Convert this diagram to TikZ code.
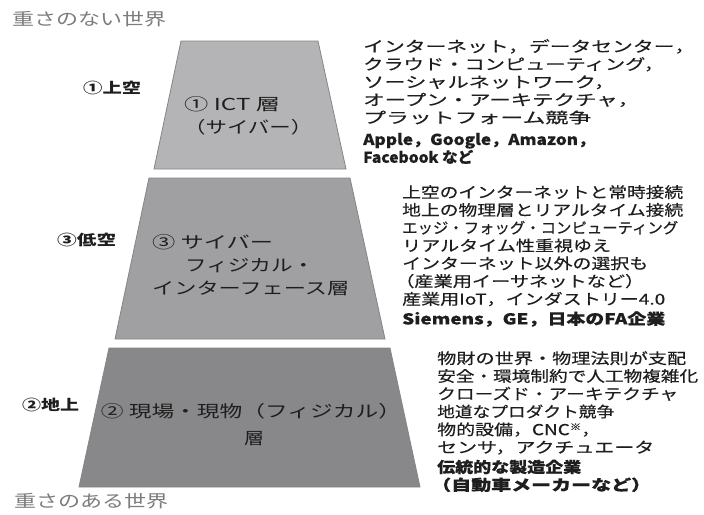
\documentclass[tikz,border=0pt]{standalone}
\usepackage{graphicx}
\usepackage{fontspec}
\setmainfont{Noto Sans CJK JP}
\newfontfamily\jpmed{Noto Sans CJK JP}[FakeBold=0.35]
\newcommand{\fsz}[2]{\fontsize{#1}{#2}\selectfont}
\newcommand{\fitw}[2]{\resizebox{#1pt}{\height}{#2}}
\definecolor{topfill}{HTML}{B4B4B6}
\definecolor{midfill}{HTML}{A0A0A2}
\definecolor{botfill}{HTML}{88888A}
\definecolor{edge}{HTML}{858587}
\definecolor{ink}{HTML}{1E1E1E}
\definecolor{titlegray}{HTML}{7C7C7C}
\begin{document}
\begin{tikzpicture}[x=1pt,y=-1pt,
  layerbox/.style={fill=#1, draw=edge, line width=0.8pt, line join=miter},
  titletext/.style={text=titlegray, font=\fsz{17}{20}, inner sep=0pt, anchor=west},
  sidetext/.style={text=ink, font=\bfseries\fsz{14.5}{17}, inner sep=0pt, anchor=west},
  labtext/.style={text=ink, font=\fsz{16.5}{23}, inner sep=0pt, align=left, anchor=west},
  desctext/.style={text=ink, font=\jpmed\fsz{15}{17.8}, inner sep=0pt, align=left, anchor=north west}]
\useasboundingbox (0,0) rectangle (704,514);
\fill[white] (0,0) rectangle (704,514);

% layers
\draw[layerbox=topfill] (181,41) -- (318,41) -- (346,169) -- (154,169) -- cycle;
\draw[layerbox=midfill] (149,178) -- (350,178) -- (385,339) -- (115,339) -- cycle;
\draw[layerbox=botfill] (109,348) -- (390,348) -- (420,487) -- (79,487) -- cycle;

% titles
\node[titletext] (ttop) at (12,19) {\fitw{154}{重さのない世界}};
\node[titletext] (tbot) at (14,501) {\fitw{154}{重さのある世界}};

% side labels
\node[sidetext] (s1) at (83,88) {\fitw{58}{①上空}};
\node[sidetext] (s3) at (57,240) {\fitw{59}{③低空}};
\node[sidetext] (s2) at (22,405) {\fitw{57}{②地上}};

% layer labels
\node[labtext] (l1) at (184,115.5) {\fitw{96}{① ICT 層}\\\fitw{128}{（サイバー）}};
\node[labtext] (l3) at (152,265) {\fitw{121}{③ サイバー}\\\hspace*{33pt}\fitw{129}{フィジカル・}\\\fitw{197}{インターフェース層}};
\node[labtext, align=center, anchor=center, font=\fsz{16.5}{27}] (l2) at (251,424.5) {\fitw{300}{② 現場・現物（フィジカル）}\\\hspace*{6pt}\fitw{20}{層}};

% descriptions
\node[desctext] (d1) at (363,39) {\fitw{332}{インターネット，データセンター，}\\
\fitw{301}{クラウド・コンピューティング，}\\
\fitw{252}{ソーシャルネットワーク，}\\
\fitw{276}{オープン・アーキテクチャ，}\\
\fitw{228}{プラットフォーム競争}\\[4pt]
{\bfseries\fitw{232}{Apple，Google，Amazon，}}\\
{\bfseries\fitw{110}{Facebook など}}};

\node[desctext] (d3) at (402,185) {\fitw{281}{上空のインターネットと常時接続}\\
\fitw{281}{地上の物理層とリアルタイム接続}\\
\fitw{276}{エッジ・フォッグ・コンピューティング}\\
\fitw{209}{リアルタイム性重視ゆえ}\\
\fitw{246}{インターネット以外の選択も}\\
\hspace*{-7pt}\fitw{249}{（産業用イーサネットなど）}\\
\fitw{263}{産業用IoT，インダストリー4.0}\\[2pt]
{\bfseries\fitw{263}{Siemens，GE，日本のFA企業}}};

\node[desctext] (d2) at (437,351) {\fitw{249}{物財の世界・物理法則が支配}\\
\fitw{261}{安全・環境制約で人工物複雑化}\\
\fitw{241}{クローズド・アーキテクチャ}\\
\fitw{177}{地道なプロダクト競争}\\
\fitw{163}{物的設備，CNC\raisebox{5pt}{\fsz{9}{9}※}，}\\
\fitw{217}{センサ，アクチュエータ}\\[2pt]
{\bfseries\fitw{144}{伝統的な製造企業}}\\
{\bfseries\hspace*{-6pt}\fitw{220}{（自動車メーカーなど）}}};
\end{tikzpicture}
\end{document}
